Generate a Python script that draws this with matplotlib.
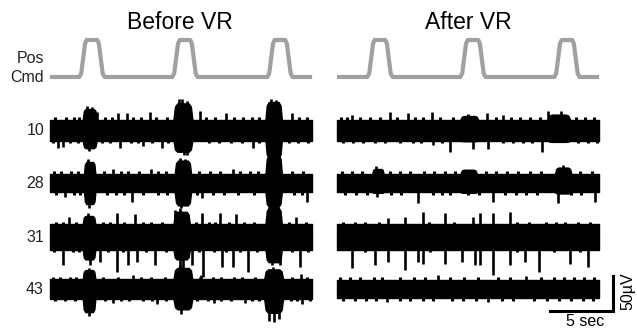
import matplotlib
matplotlib.use("Agg")
import matplotlib.pyplot as plt
import numpy as np

plt.rcParams['font.family'] = ['Liberation Sans', 'DejaVu Sans']

# ---------------- data ----------------
channels = ["10", "28", "31", "43"]
trace_duration = 20.8  # s

# position command: bump centres (s) and bump profile (offset s, normalised value)
cmd_centers_before = [3.33, 10.71, 18.25]
cmd_centers_after = [3.41, 10.79, 18.25]
bump_offsets = [-1.0, -0.85, -0.7, -0.55, -0.42, 0.42, 0.55, 0.7, 0.85, 1.0]
bump_values = [0.0, 0.1, 0.5, 0.9, 1.0, 1.0, 0.9, 0.5, 0.1, 0.0]

# background noise half-width (uV) per channel
noise_before = [15, 13, 18, 14]
noise_after = [15, 13, 18, 13]

# bursts: (t_start, t_end, up uV, down uV)
bursts_before = {
    "10": [(2.6, 3.7, 30, 26), (9.8, 11.3, 38, 31), (17.1, 18.4, 40, 40)],
    "28": [(2.7, 3.6, 30, 30), (9.9, 11.2, 32, 32), (17.1, 18.4, 40, 34)],
    "31": [(2.6, 3.6, 30, 32), (9.8, 11.1, 36, 32), (17.1, 18.4, 42, 36)],
    "43": [(2.6, 3.6, 27, 33), (9.8, 11.3, 30, 29), (17.0, 18.5, 28, 34)],
}
bursts_after = {
    "10": [(9.8, 11.2, 20, 16), (16.7, 18.5, 22, 17)],
    "28": [(2.8, 3.7, 20, 14), (9.8, 11.1, 19, 14), (17.3, 18.6, 22, 15)],
    "31": [],
    "43": [],
}

# spikes: (t s, amplitude uV; + up, - down)
spikes_before = {
    "10": [(0.65, -25), (1.05, -24), (5.56, -25), (7.4, -23), (8.9, -26), (16.1, -25),
           (3.7, 26), (5.4, 25), (6.1, 24), (7.9, 26), (11.9, 27), (14.0, 24), (19.2, 24),
           (2.9, 34), (3.3, 33), (10.2, 45), (10.5, 44), (10.9, 41), (17.5, 44), (17.9, 43),
           (10.6, -36), (10.9, -35), (3.1, -30)],
    "28": [(6.5, -27), (12.1, -21), (20.4, -27), (1.2, -20),
           (5.0, 20), (8.0, 20), (14.5, 20), (3.1, -36), (10.4, -36), (17.6, -40),
           (3.0, 34), (10.3, 36), (10.7, 35), (17.6, 44)],
    "31": [(1.06, -40), (3.17, -40), (3.97, -36), (5.29, -50), (6.21, -40), (6.88, -36),
           (8.33, -40), (10.32, -47), (10.58, -47), (11.25, -40), (12.17, -57), (13.63, -43),
           (14.55, -43), (15.74, -50), (17.59, -40), (18.25, -40), (19.84, -43),
           (5.3, 35), (6.75, 33), (9.9, 38), (12.1, 34), (13.5, 34), (14.8, 33),
           (1.5, 28), (19.5, 28), (10.3, 42), (3.0, 34), (17.5, 46), (18.0, 45)],
    "43": [(5.0, -20), (8.5, -21), (13.0, -20), (15.5, -20), (20.0, -22),
           (19.9, 22), (12.0, 20), (6.6, 20),
           (17.4, -46), (17.8, -47), (18.2, -43), (10.4, -36), (3.1, -38),
           (3.1, 30), (10.3, 34), (17.7, 31)],
}
spikes_after = {
    "10": [(7.6, -22), (9.0, -31), (10.8, -27), (12.0, -27), (16.3, -31),
           (4.2, 26), (5.6, 25), (7.5, 26), (11.9, 25), (16.75, 27), (1.2, 22), (13.2, 22),
           (17.8, 27), (10.4, 23)],
    "28": [(6.4, -29), (12.4, -27), (17.5, -29), (20.5, -27), (3.2, -20),
           (3.1, 24), (17.9, 26)],
    "31": [(1.19, -44), (3.02, -40), (4.05, -36), (5.40, -47), (6.43, -36), (6.83, -38),
           (8.57, -38), (9.92, -36), (10.95, -40), (11.35, -40), (12.38, -54), (13.73, -40),
           (14.92, -36), (16.03, -50), (18.49, -38), (19.92, -43),
           (5.40, 29), (6.83, 36), (8.57, 34), (10.79, 29), (11.35, 34), (12.38, 34),
           (13.73, 36), (4.05, 27)],
    "43": [(8.0, 20), (15.0, 19), (4.0, -19), (12.0, -19)],
}

# small edge ticks (ragged noise fringe): times (s) above / below the band
fringe_up_before = {
    "10": [0.4, 1.3, 1.9, 2.3, 4.4, 4.9, 6.6, 7.2, 8.4, 9.3, 12.4, 13.1, 14.6, 15.3, 16.0, 16.6, 19.8, 20.4],
    "28": [0.3, 0.9, 1.7, 2.2, 4.3, 5.6, 6.2, 7.1, 8.6, 9.2, 11.8, 12.7, 13.5, 15.1, 15.9, 16.5, 19.2, 20.1],
    "31": [0.5, 1.0, 2.1, 4.2, 4.8, 5.9, 7.4, 8.0, 8.9, 11.6, 12.6, 13.1, 14.2, 15.4, 16.2, 19.0, 20.3],
    "43": [0.2, 0.8, 1.6, 2.1, 4.2, 5.4, 7.2, 8.0, 9.1, 11.9, 12.9, 13.6, 14.6, 15.2, 16.3, 19.2, 20.4],
}
fringe_dn_before = {
    "10": [0.2, 1.6, 2.2, 4.1, 4.8, 6.4, 7.0, 8.1, 9.4, 12.6, 13.4, 14.4, 15.2, 16.6, 19.0, 19.7, 20.5],
    "28": [0.5, 1.9, 2.4, 4.5, 5.2, 5.9, 7.4, 8.6, 9.3, 11.7, 12.9, 13.8, 14.9, 16.2, 19.4, 20.0],
    "31": [0.3, 1.8, 2.3, 4.6, 5.8, 7.6, 9.2, 11.8, 13.0, 14.0, 15.1, 16.4, 19.2, 20.5],
    "43": [0.4, 1.2, 2.0, 4.4, 5.6, 6.3, 7.4, 8.1, 9.2, 11.7, 12.5, 13.6, 14.4, 16.0, 16.6, 19.1, 19.6, 20.6],
}
fringe_up_after = {
    "10": [0.3, 0.8, 1.8, 2.6, 3.4, 4.8, 6.2, 6.8, 8.2, 9.2, 12.6, 13.8, 14.5, 15.3, 16.1, 19.0, 19.7, 20.4],
    "28": [0.4, 1.2, 2.0, 4.2, 5.0, 5.8, 6.9, 7.7, 8.6, 9.4, 11.8, 12.6, 13.5, 14.4, 15.3, 16.2, 19.3, 20.2],
    "31": [0.5, 1.4, 2.2, 3.3, 7.3, 9.3, 14.3, 15.2, 16.6, 17.4, 18.1, 19.1, 20.1],
    "43": [0.2, 1.0, 1.8, 2.9, 3.6, 5.0, 6.1, 7.0, 9.0, 10.1, 11.2, 12.8, 13.7, 16.2, 17.2, 18.0, 18.8, 19.6, 20.4],
}
fringe_dn_after = {
    "10": [0.5, 1.3, 2.1, 3.0, 3.8, 5.0, 6.0, 6.7, 8.3, 13.2, 14.0, 14.8, 15.5, 19.1, 19.9, 20.6],
    "28": [0.6, 1.5, 2.4, 4.3, 5.1, 7.6, 8.3, 9.0, 10.4, 11.3, 13.3, 14.2, 15.0, 15.9, 18.6, 19.4],
    "31": [2.2, 7.4, 14.3, 17.2, 19.3],
    "43": [0.5, 1.4, 2.3, 3.1, 5.0, 5.8, 6.8, 7.6, 9.1, 10.0, 11.0, 13.1, 14.0, 15.6, 16.7, 17.6, 18.6, 19.5, 20.3],
}

scale_time = 5      # s
scale_volt = 50     # uV

# ---------------- layout ----------------
W, H = 637, 329
fig = plt.figure(figsize=(W / 100, H / 100), dpi=100)
ax = fig.add_axes([0, 0, 1, 1])
PX_PER_S = 12.6
PX_PER_UV = 0.7
ax.set_xlim(-50 / PX_PER_S, (W - 50) / PX_PER_S)
ax.set_ylim(0, H / PX_PER_UV)
ax.axis("off")

right_offset = (337 - 50) / PX_PER_S
chan_offsets = [(H - py) / PX_PER_UV for py in (130, 183, 237, 289)]
cmd_base = (H - 77) / PX_PER_UV
cmd_gain = 37 / PX_PER_UV
FRINGE = 3.5  # uV beyond band edge

GREY = "#a0a0a0"


def draw_cmd(centers, x0):
    t = [0.0]
    v = [0.0]
    for c in centers:
        for o, b in zip(bump_offsets, bump_values):
            t.append(c + o)
            v.append(b)
    t.append(trace_duration)
    v.append(0.0)
    t = np.array(t) + x0
    v = cmd_base + cmd_gain * np.array(v)
    ax.plot(t, v, color=GREY, lw=3.0, solid_joinstyle="round", solid_capstyle="butt")


def draw_trace(x0, y0, hw, bursts, spikes, f_up, f_dn):
    ax.fill_between([x0, x0 + trace_duration], y0 - hw, y0 + hw,
                    color="black", lw=1.0, edgecolor="black")
    for (t0, t1, up, dn) in bursts:
        d = t1 - t0
        xs = x0 + np.array([t0, t0 + 0.08 * d, t0 + 0.2 * d, t1 - 0.2 * d, t1 - 0.08 * d, t1])
        top = [hw, hw + 0.8 * (up - hw), up, up, hw + 0.8 * (up - hw), hw]
        bot = [hw, hw + 0.8 * (dn - hw), dn, dn, hw + 0.8 * (dn - hw), hw]
        ax.fill_between(xs, y0 - np.array(bot), y0 + np.array(top),
                        color="black", lw=1.0, edgecolor="black")
    ax.vlines([x0 + t for t in f_up], y0, y0 + hw + FRINGE, color="black", lw=2.2)
    ax.vlines([x0 + t for t in f_dn], y0, y0 - hw - FRINGE, color="black", lw=2.2)
    ts = [x0 + s[0] for s in spikes]
    amps = [y0 + s[1] for s in spikes]
    ax.vlines(ts, y0, amps, color="black", lw=1.9)


draw_cmd(cmd_centers_before, 0.0)
draw_cmd(cmd_centers_after, right_offset)

for i, ch in enumerate(channels):
    y0 = chan_offsets[i]
    draw_trace(0.0, y0, noise_before[i], bursts_before[ch], spikes_before[ch],
               fringe_up_before[ch], fringe_dn_before[ch])
    draw_trace(right_offset, y0, noise_after[i], bursts_after[ch], spikes_after[ch],
               fringe_up_after[ch], fringe_dn_after[ch])
    ax.text(-6 / PX_PER_S, y0, ch, ha="right", va="center", fontsize=11.5, color="#222222")

# titles and command label
ax.text(130 / PX_PER_S, (H - 22) / PX_PER_UV, "Before VR", ha="center", va="center", fontsize=16.5)
ax.text(418 / PX_PER_S, (H - 22) / PX_PER_UV, "After VR", ha="center", va="center", fontsize=16.5)
ax.text(-6 / PX_PER_S, (H - 58) / PX_PER_UV, "Pos", ha="right", va="center", fontsize=11.5, color="#222222")
ax.text(-6 / PX_PER_S, (H - 77) / PX_PER_UV, "Cmd", ha="right", va="center", fontsize=11.5, color="#222222")

# scale bar
sb_x1 = (613 - 50) / PX_PER_S
sb_y0 = (H - 311) / PX_PER_UV
ax.plot([sb_x1 - scale_time, sb_x1, sb_x1], [sb_y0, sb_y0, sb_y0 + scale_volt],
        color="black", lw=2.2, solid_joinstyle="miter")
ax.text(sb_x1 - scale_time / 2 + 0.25, sb_y0 - 10 / PX_PER_UV, f"{scale_time} sec",
        ha="center", va="center", fontsize=11.5)
ax.text(sb_x1 + 15 / PX_PER_S, sb_y0 + 20 / PX_PER_UV, f"{scale_volt}\u00b5V",
        ha="center", va="center", rotation=90, fontsize=11.5)

fig.savefig("out.png", dpi=100)
